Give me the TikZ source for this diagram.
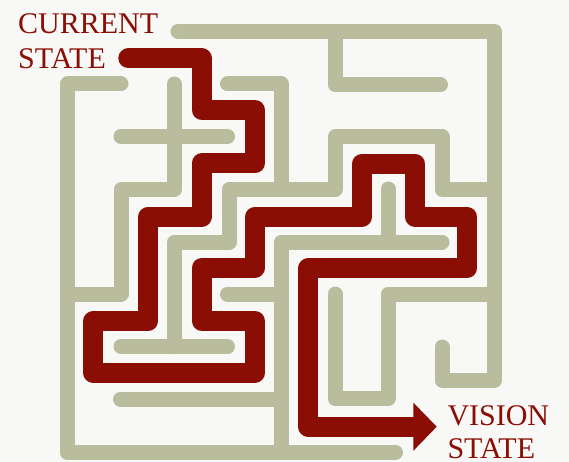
\documentclass[tikz,border=0pt]{standalone}
\usepackage{fontspec}
\setmainfont{Liberation Serif}
\usetikzlibrary{arrows.meta}
\definecolor{mazewall}{RGB}{185,189,157}
\definecolor{mazeroute}{RGB}{139,14,4}
\definecolor{mazebg}{RGB}{248,248,246}

\begin{document}
\begin{tikzpicture}[
  x=1pt, y=-1pt,
  wall/.style={draw=mazewall, line width=15pt, line cap=round, line join=round},
  route/.style={draw=mazeroute, line width=20pt, line cap=round, line join=round},
  lbl/.style={font=\fontsize{30}{35}\selectfont, text=mazeroute, inner sep=0pt,
    anchor=base west},
]
\fill[mazebg] (0,0) rectangle (569,462);
\useasboundingbox (0,0) rectangle (569,462);
% outer walls
\draw[wall] (178,31.5) -- (494.5,31.5) -- (494.5,380) -- (442,380) -- (442,347);
\draw[wall] (121,84) -- (67.5,84) -- (67.5,452.5) -- (395.5,452.5);
% inner walls, top
\draw[wall] (335,31.5) -- (335,85) -- (440.5,85);
\draw[wall] (174,84) -- (174,189.5) -- (121,189.5) -- (121,294) -- (67.5,294);
\draw[wall] (121,136.5) -- (227.5,136.5);
\draw[wall] (227.5,84) -- (281,84) -- (281,189.5);
\draw[wall] (494.5,189.5) -- (442,189.5) -- (442,137) -- (335,137) -- (335,189.5)
  -- (229,189.5) -- (229,242.5) -- (174,242.5) -- (174,346.7);
% inner walls, bottom
\draw[wall] (121,346.7) -- (227.5,346.7);
\draw[wall] (442,242) -- (281,242) -- (281,452.5);
\draw[wall] (388,189) -- (388,242);
\draw[wall] (227.5,294) -- (281,294);
\draw[wall] (120.5,399) -- (281,399);
\draw[wall] (494.5,294) -- (388,294) -- (388,398.5) -- (335,398.5) -- (335,294);
% labels
\node[lbl] (curtop) at (18,33.3) {CURRENT};
\node[lbl] (curbot) at (18,68.3) {STATE};
\node[lbl] (vistop) at (447.3,425.5) {VISION};
\node[lbl] (visbot) at (447.3,458.5) {STATE};
% the way through
\coordinate (start) at (128.3,58.3);
\coordinate (goal) at (436.7,426.7);
\draw[route, -{Triangle[length=23.3pt, width=48pt, line width=0pt]}] (start)
  -- (201.7,58.3) -- (201.7,110) -- (255,110) -- (255,163.3) -- (201.7,163.3)
  -- (201.7,216.7) -- (148.3,216.7) -- (148.3,321) -- (93.3,321) -- (93.3,372.7)
  -- (255,372.7) -- (255,321) -- (201.7,321) -- (201.7,267.7) -- (255,267.7)
  -- (255,216.7) -- (362,216.7) -- (362,163.7) -- (415,163.7) -- (415,216.7)
  -- (467,216.7) -- (467,268.3) -- (308.3,268.3) -- (308.3,426.7) -- (goal);
\end{tikzpicture}
\end{document}
